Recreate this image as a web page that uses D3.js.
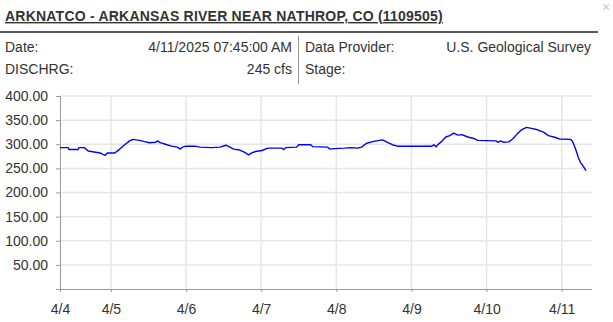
<!DOCTYPE html>
<html>
<head>
<meta charset="utf-8">
<script src="https://cdn.jsdelivr.net/npm/d3@7"></script>
<style>
    body { margin: 0; background: #fff; }
    svg text { font-family: "Liberation Sans", Arial, sans-serif; }
    .grid line { stroke: #e6e6e6; stroke-width: 1.5; }
    .axis path, .axis line { stroke: #999; }
    .axis text { fill: #333; font-size: 14px; }
</style>
</head>
<body>
<div id="chart"></div>
<script>
// station info
const title = "ARKNATCO - ARKANSAS RIVER NEAR NATHROP, CO (1109505)";
const infoLeft = [["Date:", "4/11/2025 07:45:00 AM"], ["DISCHRG:", "245 cfs"]];
const infoRight = [["Data Provider:", "U.S. Geological Survey"], ["Stage:", ""]];

// discharge readings (cfs)
const times = [
    "2025-04-04T07:45", "2025-04-04T10:20", "2025-04-04T10:40", "2025-04-04T13:30", "2025-04-04T13:50",
    "2025-04-04T15:30", "2025-04-04T16:45", "2025-04-04T18:40", "2025-04-04T20:35", "2025-04-04T21:30",
    "2025-04-04T22:10", "2025-04-04T22:50", "2025-04-05T01:15", "2025-04-05T02:50", "2025-04-05T04:25",
    "2025-04-05T06:00", "2025-04-05T07:00", "2025-04-05T09:10", "2025-04-05T11:05", "2025-04-05T12:20",
    "2025-04-05T14:15", "2025-04-05T14:55", "2025-04-05T15:30", "2025-04-05T17:25", "2025-04-05T19:20",
    "2025-04-05T21:15", "2025-04-05T22:10", "2025-04-05T22:50", "2025-04-06T00:00", "2025-04-06T02:50",
    "2025-04-06T04:25", "2025-04-06T08:15", "2025-04-06T10:50", "2025-04-06T12:45", "2025-04-06T13:40",
    "2025-04-06T15:15", "2025-04-06T17:10", "2025-04-06T18:45", "2025-04-06T20:00", "2025-04-06T21:00",
    "2025-04-06T22:15", "2025-04-07T00:15", "2025-04-07T02:10", "2025-04-07T06:35", "2025-04-07T07:15",
    "2025-04-07T07:50", "2025-04-07T11:20", "2025-04-07T12:00", "2025-04-07T15:50", "2025-04-07T16:30",
    "2025-04-07T21:15", "2025-04-07T21:55", "2025-04-07T23:10", "2025-04-08T02:40", "2025-04-08T04:55",
    "2025-04-08T06:50", "2025-04-08T08:05", "2025-04-08T09:40", "2025-04-08T11:55", "2025-04-08T14:45",
    "2025-04-08T16:20", "2025-04-08T17:55", "2025-04-08T19:30", "2025-04-09T06:30", "2025-04-09T07:10",
    "2025-04-09T07:50", "2025-04-09T08:25", "2025-04-09T09:40", "2025-04-09T11:00", "2025-04-09T12:15",
    "2025-04-09T13:30", "2025-04-09T14:50", "2025-04-09T16:05", "2025-04-09T18:00", "2025-04-09T19:55",
    "2025-04-09T21:10", "2025-04-10T03:00", "2025-04-10T03:35", "2025-04-10T04:30", "2025-04-10T05:30",
    "2025-04-10T07:05", "2025-04-10T08:20", "2025-04-10T09:35", "2025-04-10T11:10", "2025-04-10T12:45",
    "2025-04-10T14:20", "2025-04-10T16:15", "2025-04-10T18:10", "2025-04-10T19:45", "2025-04-10T22:00",
    "2025-04-10T23:15", "2025-04-11T02:50", "2025-04-11T03:25", "2025-04-11T04:25", "2025-04-11T05:20",
    "2025-04-11T06:00", "2025-04-11T06:55", "2025-04-11T07:30", "2025-04-11T07:45"
];
const discharge = [
    293, 293, 289, 289, 293,
    293, 286, 284, 282, 279,
    277, 282, 282, 290, 299,
    307, 310, 308, 305, 303,
    304, 307, 304, 300, 296,
    294, 290, 294, 296, 296,
    294, 293, 294, 298, 295,
    290, 288, 283, 278, 282,
    285, 287, 292, 292, 289,
    293, 294, 299, 299, 295,
    294, 290, 291, 292, 293,
    292, 294, 302, 306, 309,
    304, 299, 296, 296, 299,
    295, 299, 306, 315, 318,
    323, 319, 320, 315, 312,
    308, 307, 304, 307, 304,
    305, 311, 320, 330, 335,
    333, 330, 325, 318, 314,
    311, 310, 306, 290, 272,
    262, 254, 248, 245
];

// axis ticks
const xTicks = ["2025-04-04T07:45", "2025-04-05T00:00", "2025-04-06T00:00", "2025-04-07T00:00",
    "2025-04-08T00:00", "2025-04-09T00:00", "2025-04-10T00:00", "2025-04-11T00:00"];
const xDomain = ["2025-04-04T07:45", "2025-04-11T09:40"];
const yTicks = [0, 50, 100, 150, 200, 250, 300, 350, 400];

const parse = d3.timeParse("%Y-%m-%dT%H:%M");
const data = times.map((t, i) => ({ t: parse(t), v: discharge[i] }));

const W = 613, H = 322;
const margin = { top: 96, right: 21, bottom: 33, left: 60 };
const width = W - margin.left - margin.right;
const height = H - margin.top - margin.bottom;

const svg = d3.select("#chart").append("svg")
    .attr("width", W)
    .attr("height", H);

// ---- header ----
const head = svg.append("g");
head.append("text")
    .attr("x", 5).attr("y", 21)
    .attr("font-size", 14).attr("font-weight", "bold")
    .attr("letter-spacing", 0.22)
    .attr("fill", "#333")
    .attr("text-decoration", "underline")
    .text(title);
head.append("text")
    .attr("x", 606).attr("y", 12)
    .attr("text-anchor", "middle")
    .attr("font-size", 14)
    .attr("fill", "#c8c8c8")
    .text("×");
head.append("line")
    .attr("x1", 0).attr("x2", 598)
    .attr("y1", 32).attr("y2", 32)
    .attr("stroke", "#222").attr("stroke-width", 1.5);
head.append("line")
    .attr("x1", 298.5).attr("x2", 298.5)
    .attr("y1", 36).attr("y2", 84)
    .attr("stroke", "#999");

infoLeft.forEach(function(r, i) {
    let y = 52 + i * 22;
    head.append("text").attr("x", 5).attr("y", y)
        .attr("font-size", 14).attr("fill", "#333").text(r[0]);
    head.append("text").attr("x", 292).attr("y", y)
        .attr("font-size", 14).attr("fill", "#333")
        .attr("text-anchor", "end").text(r[1]);
});
infoRight.forEach(function(r, i) {
    let y = 52 + i * 22;
    head.append("text").attr("x", 305).attr("y", y)
        .attr("font-size", 14).attr("fill", "#333").text(r[0]);
    head.append("text").attr("x", 591).attr("y", y)
        .attr("font-size", 14).attr("fill", "#333")
        .attr("text-anchor", "end").text(r[1]);
});

// ---- chart ----
const g = svg.append("g")
    .attr("transform", "translate(" + margin.left + "," + margin.top + ")");

const x = d3.scaleTime()
    .domain(xDomain.map(parse))
    .range([0, width]);
const y = d3.scaleLinear()
    .domain([0, 400])
    .range([height, 0]);

// grid
g.append("g").attr("class", "grid")
    .selectAll("line.h")
    .data(yTicks.filter(d => d > 0))
    .enter().append("line")
    .attr("x1", 0).attr("x2", width)
    .attr("y1", d => y(d)).attr("y2", d => y(d));
g.append("g").attr("class", "grid")
    .selectAll("line.v")
    .data(xTicks.slice(1).map(parse))
    .enter().append("line")
    .attr("x1", d => x(d)).attr("x2", d => x(d))
    .attr("y1", 0).attr("y2", height);

// axes
const xAxis = d3.axisBottom(x)
    .tickValues(xTicks.map(parse))
    .tickSize(3)
    .tickPadding(12)
    .tickFormat(d3.timeFormat("%-m/%-d"));
const yAxis = d3.axisLeft(y)
    .tickValues(yTicks)
    .tickSize(4)
    .tickPadding(8)
    .tickFormat(d => d === 0 ? "" : d3.format(".2f")(d));

g.append("g").attr("class", "axis x-axis")
    .attr("transform", "translate(0," + height + ")")
    .call(xAxis)
    .call(a => a.select(".domain").attr("d", "M0,0.5H" + width));
g.append("g").attr("class", "axis y-axis")
    .call(yAxis)
    .call(a => a.select(".domain").attr("d", "M0.5," + height + "V0"));

// discharge line
const line = d3.line()
    .x(d => x(d.t))
    .y(d => y(d.v));

g.append("path")
    .datum(data)
    .attr("fill", "none")
    .attr("stroke", "#0000ff")
    .attr("stroke-width", 1.4)
    .attr("stroke-linejoin", "round")
    .attr("d", line);
</script>
</body>
</html>
